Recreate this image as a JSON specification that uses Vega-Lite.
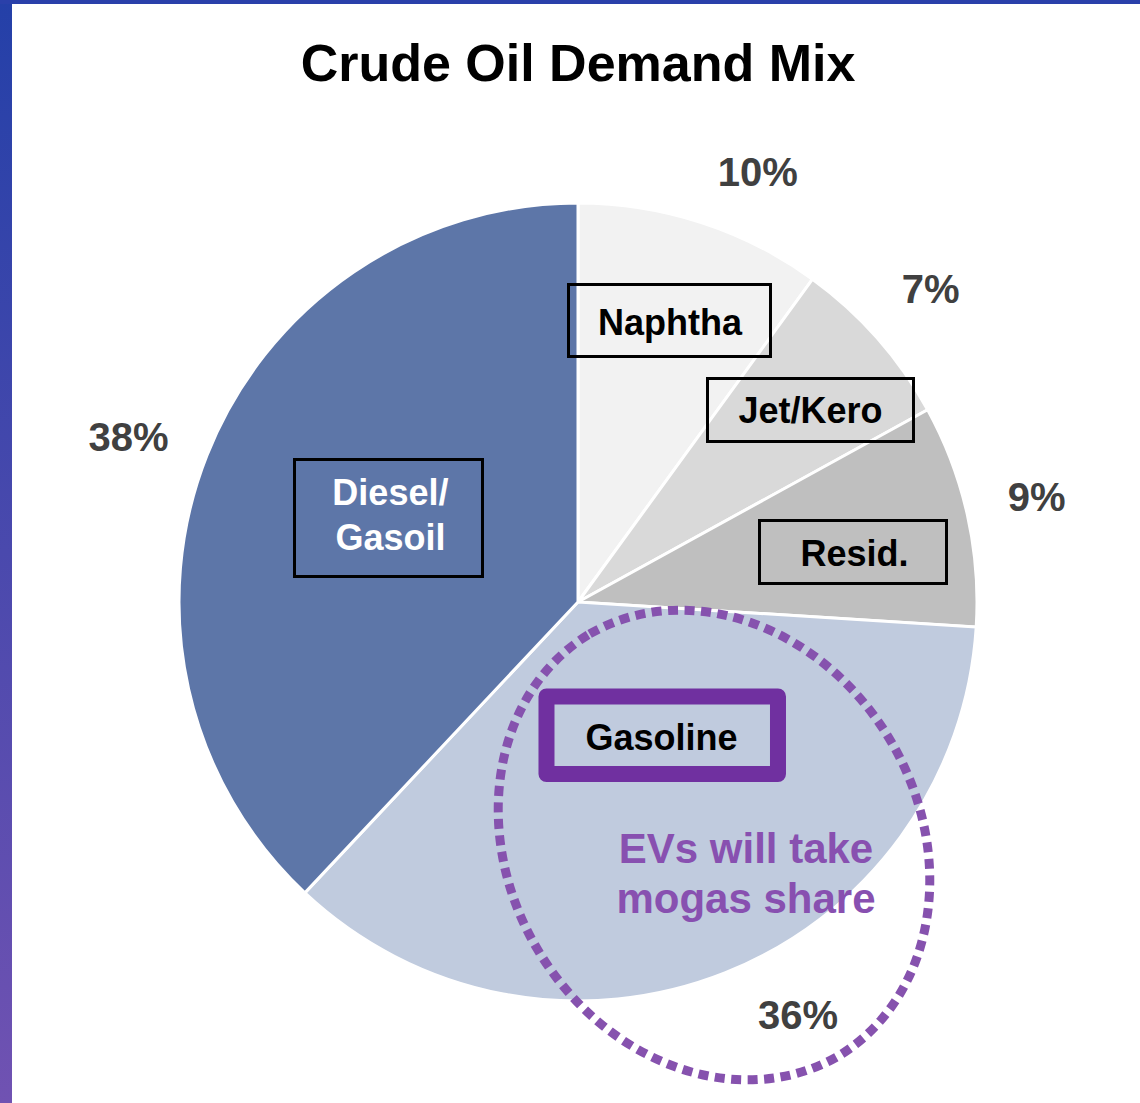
{
  "$schema": "https://vega.github.io/schema/vega-lite/v6.json",
  "autosize": {"type": "none"},
  "width": 1124,
  "height": 1002,
  "padding": {"left": 16, "top": 101, "right": 0, "bottom": 0},
  "background": "white",
  "config": {"view": {"stroke": null}},
  "title": {"text": "Crude Oil Demand Mix", "font": "Liberation Sans", "fontSize": 52, "fontWeight": "bold", "color": "#000000", "anchor": "middle", "baseline": "alphabetic", "offset": -133},
  "data": {"values": [
    {"category": "Naphtha", "label": "Naphtha", "share": 0.10, "order": 1},
    {"category": "Jet/Kero", "label": "Jet/Kero", "share": 0.07, "order": 2},
    {"category": "Resid.", "label": "Resid.", "share": 0.09, "order": 3},
    {"category": "Gasoline", "label": "Gasoline", "share": 0.36, "order": 4},
    {"category": "Diesel/Gasoil", "label": "Diesel/\nGasoil", "share": 0.38, "order": 5}
  ]},
  "layer": [
    {
      "data": {"values": [{"part": "left"}]},
      "mark": {"type": "rect", "fill": {"gradient": "linear", "x1": 0, "y1": 0, "x2": 0, "y2": 1, "stops": [{"offset": 0, "color": "#2440a8"}, {"offset": 1, "color": "#7052b2"}]}},
      "encoding": {
        "x": {"datum": -144.5, "type": "quantitative", "scale": {"domain": [-140.5, 140.5], "nice": false, "zero": false}, "axis": null},
        "x2": {"datum": -141.5},
        "y": {"datum": 150.5, "type": "quantitative", "scale": {"domain": [-125.25, 125.25], "nice": false, "zero": false}, "axis": null},
        "y2": {"datum": -125.25}
      }
    },
    {
      "data": {"values": [{"part": "top"}]},
      "mark": {"type": "rect", "fill": "#2a40aa"},
      "encoding": {
        "x": {"datum": -144.5, "type": "quantitative", "scale": {"domain": [-140.5, 140.5], "nice": false, "zero": false}, "axis": null},
        "x2": {"datum": 140.5},
        "y": {"datum": 150.5, "type": "quantitative", "scale": {"domain": [-125.25, 125.25], "nice": false, "zero": false}, "axis": null},
        "y2": {"datum": 149.5}
      }
    },
    {
      "mark": {"type": "arc", "radius": 399, "stroke": "white", "strokeWidth": 3},
      "encoding": {
        "theta": {"field": "share", "type": "quantitative", "stack": true},
        "order": {"field": "order", "type": "quantitative"},
        "color": {"field": "category", "type": "nominal", "legend": null,
          "scale": {"domain": ["Naphtha", "Jet/Kero", "Resid.", "Gasoline", "Diesel/Gasoil"], "range": ["#f2f2f2", "#d9d9d9", "#bfbfbf", "#c0cbde", "#5d76a8"]}}
      }
    },
    {
      "mark": {"type": "text", "radius": 470, "font": "Liberation Sans", "fontSize": 40, "fontWeight": "bold", "color": "#404040"},
      "encoding": {
        "theta": {"field": "share", "type": "quantitative", "stack": true},
        "order": {"field": "order", "type": "quantitative"},
        "text": {"condition": {"test": "datum.category === 'Jet/Kero' || datum.category === 'Resid.'", "field": "share", "type": "quantitative", "format": ".0%"}, "value": ""}
      }
    },
    {
      "mark": {"type": "text", "radius": 464, "thetaOffset": 0.0838, "font": "Liberation Sans", "fontSize": 40, "fontWeight": "bold", "color": "#404040"},
      "encoding": {
        "theta": {"field": "share", "type": "quantitative", "stack": true},
        "order": {"field": "order", "type": "quantitative"},
        "text": {"condition": {"test": "datum.category === 'Naphtha'", "field": "share", "type": "quantitative", "format": ".0%"}, "value": ""}
      }
    },
    {
      "mark": {"type": "text", "radius": 470, "thetaOffset": -0.110, "font": "Liberation Sans", "fontSize": 40, "fontWeight": "bold", "color": "#404040"},
      "encoding": {
        "theta": {"field": "share", "type": "quantitative", "stack": true},
        "order": {"field": "order", "type": "quantitative"},
        "text": {"condition": {"test": "datum.category === 'Gasoline'", "field": "share", "type": "quantitative", "format": ".0%"}, "value": ""}
      }
    },
    {
      "mark": {"type": "text", "radius": 478, "thetaOffset": -0.030, "font": "Liberation Sans", "fontSize": 40, "fontWeight": "bold", "color": "#404040"},
      "encoding": {
        "theta": {"field": "share", "type": "quantitative", "stack": true},
        "order": {"field": "order", "type": "quantitative"},
        "text": {"condition": {"test": "datum.category === 'Diesel/Gasoil'", "field": "share", "type": "quantitative", "format": ".0%"}, "value": ""}
      }
    },
    {
      "transform": [{"filter": "datum.category === 'Naphtha'"}],
      "layer": [
        {
          "mark": {"type": "point", "shape": "M-1,-0.3564H1V0.3564H-1Z", "size": 40804, "filled": false, "color": "#000000", "strokeWidth": 3, "opacity": 1},
          "encoding": {
            "x": {"datum": 22.875, "type": "quantitative", "scale": {"domain": [-140.5, 140.5], "nice": false, "zero": false}, "axis": null},
            "y": {"datum": 70.375, "type": "quantitative", "scale": {"domain": [-125.25, 125.25], "nice": false, "zero": false}, "axis": null}
          }
        },
        {
          "mark": {"type": "text", "font": "Liberation Sans", "fontSize": 36, "fontWeight": "bold", "color": "#000000", "baseline": "alphabetic", "align": "center"},
          "encoding": {
            "x": {"datum": 23.0, "type": "quantitative", "scale": {"domain": [-140.5, 140.5], "nice": false, "zero": false}, "axis": null},
            "y": {"datum": 66.75, "type": "quantitative", "scale": {"domain": [-125.25, 125.25], "nice": false, "zero": false}, "axis": null},
            "text": {"field": "label"}
          }
        }
      ]
    },
    {
      "transform": [{"filter": "datum.category === 'Jet/Kero'"}],
      "layer": [
        {
          "mark": {"type": "point", "shape": "M-1,-0.3058H1V0.3058H-1Z", "size": 42436, "filled": false, "color": "#000000", "strokeWidth": 3, "opacity": 1},
          "encoding": {
            "x": {"datum": 58.125, "type": "quantitative", "scale": {"domain": [-140.5, 140.5], "nice": false, "zero": false}, "axis": null},
            "y": {"datum": 48.0, "type": "quantitative", "scale": {"domain": [-125.25, 125.25], "nice": false, "zero": false}, "axis": null}
          }
        },
        {
          "mark": {"type": "text", "font": "Liberation Sans", "fontSize": 36, "fontWeight": "bold", "color": "#000000", "baseline": "alphabetic", "align": "center"},
          "encoding": {
            "x": {"datum": 58.125, "type": "quantitative", "scale": {"domain": [-140.5, 140.5], "nice": false, "zero": false}, "axis": null},
            "y": {"datum": 44.75, "type": "quantitative", "scale": {"domain": [-125.25, 125.25], "nice": false, "zero": false}, "axis": null},
            "text": {"field": "label"}
          }
        }
      ]
    },
    {
      "transform": [{"filter": "datum.category === 'Resid.'"}],
      "layer": [
        {
          "mark": {"type": "point", "shape": "M-1,-0.3369H1V0.3369H-1Z", "size": 34969, "filled": false, "color": "#000000", "strokeWidth": 3, "opacity": 1},
          "encoding": {
            "x": {"datum": 68.75, "type": "quantitative", "scale": {"domain": [-140.5, 140.5], "nice": false, "zero": false}, "axis": null},
            "y": {"datum": 12.5, "type": "quantitative", "scale": {"domain": [-125.25, 125.25], "nice": false, "zero": false}, "axis": null}
          }
        },
        {
          "mark": {"type": "text", "font": "Liberation Sans", "fontSize": 36, "fontWeight": "bold", "color": "#000000", "baseline": "alphabetic", "align": "center"},
          "encoding": {
            "x": {"datum": 69.125, "type": "quantitative", "scale": {"domain": [-140.5, 140.5], "nice": false, "zero": false}, "axis": null},
            "y": {"datum": 9.0, "type": "quantitative", "scale": {"domain": [-125.25, 125.25], "nice": false, "zero": false}, "axis": null},
            "text": {"field": "label"}
          }
        }
      ]
    },
    {
      "transform": [{"filter": "datum.category === 'Diesel/Gasoil'"}],
      "layer": [
        {
          "mark": {"type": "point", "shape": "M-1,-0.6223H1V0.6223H-1Z", "size": 35344, "filled": false, "color": "#000000", "strokeWidth": 3, "opacity": 1},
          "encoding": {
            "x": {"datum": -47.375, "type": "quantitative", "scale": {"domain": [-140.5, 140.5], "nice": false, "zero": false}, "axis": null},
            "y": {"datum": 21.0, "type": "quantitative", "scale": {"domain": [-125.25, 125.25], "nice": false, "zero": false}, "axis": null}
          }
        },
        {
          "mark": {"type": "text", "font": "Liberation Sans", "fontSize": 36, "fontWeight": "bold", "color": "#ffffff", "baseline": "alphabetic", "align": "center", "lineBreak": "\n", "lineHeight": 45},
          "encoding": {
            "x": {"datum": -46.9, "type": "quantitative", "scale": {"domain": [-140.5, 140.5], "nice": false, "zero": false}, "axis": null},
            "y": {"datum": 24.25, "type": "quantitative", "scale": {"domain": [-125.25, 125.25], "nice": false, "zero": false}, "axis": null},
            "text": {"field": "label"}
          }
        }
      ]
    },
    {
      "transform": [{"filter": "datum.category === 'Gasoline'"}],
      "layer": [
        {
          "mark": {"type": "point", "shape": "M-1,-0.3348H1V0.3348H-1Z", "size": 53592, "filled": false, "color": "#7030a0", "strokeWidth": 16, "strokeJoin": "round", "opacity": 1},
          "encoding": {
            "x": {"datum": 21.06, "type": "quantitative", "scale": {"domain": [-140.5, 140.5], "nice": false, "zero": false}, "axis": null},
            "y": {"datum": -33.31, "type": "quantitative", "scale": {"domain": [-125.25, 125.25], "nice": false, "zero": false}, "axis": null}
          }
        },
        {
          "mark": {"type": "text", "font": "Liberation Sans", "fontSize": 36, "fontWeight": "bold", "color": "#000000", "baseline": "alphabetic", "align": "center"},
          "encoding": {
            "x": {"datum": 20.875, "type": "quantitative", "scale": {"domain": [-140.5, 140.5], "nice": false, "zero": false}, "axis": null},
            "y": {"datum": -37.0, "type": "quantitative", "scale": {"domain": [-125.25, 125.25], "nice": false, "zero": false}, "axis": null},
            "text": {"field": "label"}
          }
        },
        {
          "mark": {"type": "text", "text": ["EVs will take", "mogas share"], "font": "Liberation Sans", "fontSize": 42, "fontWeight": "bold", "color": "#8850b0", "baseline": "alphabetic", "align": "center", "lineHeight": 50},
          "encoding": {
            "x": {"datum": 42.0, "type": "quantitative", "scale": {"domain": [-140.5, 140.5], "nice": false, "zero": false}, "axis": null},
            "y": {"datum": -65.25, "type": "quantitative", "scale": {"domain": [-125.25, 125.25], "nice": false, "zero": false}, "axis": null}
          }
        },
        {
          "mark": {"type": "point", "shape": "M-0.5075,-0.8616A1,0.845,59.5,0,1,0.5075,0.8616A1,0.845,59.5,0,1,-0.5075,-0.8616Z", "size": 240100, "filled": false, "color": "#8652ae", "strokeWidth": 9, "strokeDash": [10, 6.5], "opacity": 1},
          "encoding": {
            "x": {"datum": 34.0, "type": "quantitative", "scale": {"domain": [-140.5, 140.5], "nice": false, "zero": false}, "axis": null},
            "y": {"datum": -60.75, "type": "quantitative", "scale": {"domain": [-125.25, 125.25], "nice": false, "zero": false}, "axis": null}
          }
        }
      ]
    }
  ]
}
